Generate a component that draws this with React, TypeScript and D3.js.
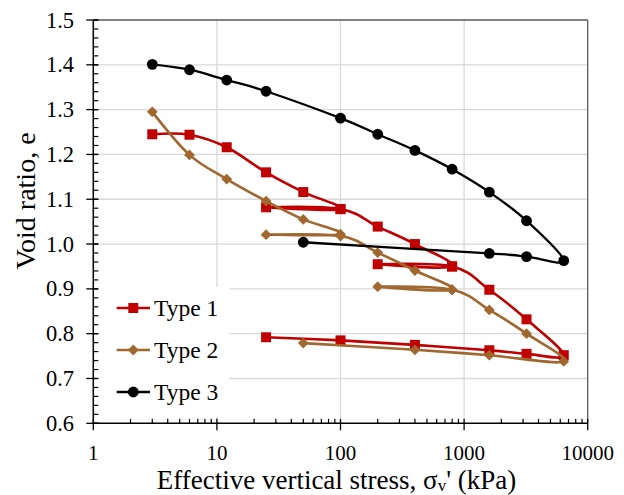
import React from "react";
import * as d3 from "d3";

const type1X = [3, 6, 12, 25, 50, 100, 25, 100, 200, 400, 800, 200, 800, 1600, 3200, 6400, 3200, 1600, 400, 100, 25];
const type1Y = [1.245, 1.244, 1.216, 1.16, 1.116, 1.078, 1.082, 1.078, 1.039, 1.0, 0.95, 0.955, 0.95, 0.898, 0.832, 0.752, 0.755, 0.763, 0.775, 0.785, 0.792];

const type2X = [3, 6, 12, 25, 50, 100, 25, 100, 200, 400, 800, 200, 800, 1600, 3200, 6400, 1600, 400, 50];
const type2Y = [1.295, 1.199, 1.145, 1.096, 1.055, 1.022, 1.021, 1.018, 0.981, 0.941, 0.898, 0.905, 0.898, 0.853, 0.8, 0.738, 0.752, 0.764, 0.779];

const type3X = [3, 6, 12, 25, 100, 200, 400, 800, 1600, 3200, 6400, 3200, 1600, 50];
const type3Y = [1.401, 1.389, 1.366, 1.341, 1.281, 1.245, 1.209, 1.167, 1.116, 1.052, 0.963, 0.972, 0.979, 1.004];

const xTicks = [1, 10, 100, 1000, 10000];
const yTicks = [0.6, 0.7, 0.8, 0.9, 1.0, 1.1, 1.2, 1.3, 1.4, 1.5];
const seriesNames = ["Type 1", "Type 2", "Type 3"];

const W = 624, H = 495;
const L = 93.3, R = 587.7, T = 20, B = 423.3;
const FONT = "'Liberation Serif', 'Times New Roman', serif";

export default function App() {
  const x = d3.scaleLog().domain([1, 10000]).range([L, R]);
  const y = d3.scaleLinear().domain([0.6, 1.5]).range([B, T]);

  const series = [
    { name: seriesNames[0], xs: type1X, ys: type1Y, color: "#C00000", shape: "square", lw: 2.6 },
    { name: seriesNames[1], xs: type2X, ys: type2Y, color: "#A0672F", shape: "diamond", lw: 2.6 },
    { name: seriesNames[2], xs: type3X, ys: type3Y, color: "#000000", shape: "circle", lw: 2.3 },
  ];

  const line = d3.line<[number, number]>()
    .x((d) => x(d[0]))
    .y((d) => y(d[1]))
    .curve(d3.curveCatmullRom.alpha(0));

  const marker = (shape: string, cx: number, cy: number, color: string, key: any) => {
    if (shape === "square") return <rect key={key} x={cx - 5} y={cy - 5} width={10} height={10} fill={color} />;
    if (shape === "diamond") return <path key={key} d={`M${cx},${cy - 5.4}L${cx + 5.4},${cy}L${cx},${cy + 5.4}L${cx - 5.4},${cy}Z`} fill={color} />;
    return <circle key={key} cx={cx} cy={cy} r={5.4} fill={color} />;
  };

  const minorX: number[] = [];
  for (let dec = 1; dec < 10000; dec *= 10) for (let k = 2; k <= 9; k++) minorX.push(dec * k);
  const minorY: number[] = d3.range(0.6, 1.5001, 0.02);

  const legY = [308, 350, 392];

  return (
    <svg width={W} height={H} style={{ position: "absolute", left: 0, top: 0, background: "#fff" }} fontFamily={FONT}>
      <rect x={0} y={0} width={W} height={H} fill="#fff" />
      {yTicks.slice(1, -1).map((t) => (
        <line key={"gy" + t} x1={L} x2={R} y1={y(t)} y2={y(t)} stroke="#d9d9d9" strokeWidth={1.3} />
      ))}
      {xTicks.slice(1, -1).map((t) => (
        <line key={"gx" + t} x1={x(t)} x2={x(t)} y1={T} y2={B} stroke="#d9d9d9" strokeWidth={1.3} />
      ))}
      <line x1={L} x2={R} y1={T} y2={T} stroke="#595959" strokeWidth={1.3} />
      <line x1={R} x2={R} y1={T} y2={B} stroke="#595959" strokeWidth={1.3} />
      <rect x={L + 1} y={287} width={135} height={130} fill="#fff" />
      {series.map((s) => {
        const pts: [number, number][] = s.xs.map((v, i) => [v, s.ys[i]]);
        return (
          <g key={s.name}>
            <path d={line(pts) || ""} fill="none" stroke={s.color} strokeWidth={s.lw} strokeLinejoin="round" />
            {pts.map((p, i) => marker(s.shape, x(p[0]), y(p[1]), s.color, i))}
          </g>
        );
      })}
      <line x1={L} x2={R} y1={B} y2={B} stroke="#000" strokeWidth={1.5} />
      <line x1={L} x2={L} y1={T} y2={B} stroke="#000" strokeWidth={1.5} />
      {minorX.map((t) => (
        <line key={"mx" + t} x1={x(t)} x2={x(t)} y1={B} y2={B - 4.5} stroke="#000" strokeWidth={1.2} />
      ))}
      {xTicks.map((t) => (
        <line key={"tx" + t} x1={x(t)} x2={x(t)} y1={B - 4.5} y2={B + 7} stroke="#000" strokeWidth={1.3} />
      ))}
      {minorY.map((t, i) => (
        <line key={"my" + i} x1={L} x2={L + 5} y1={y(t)} y2={y(t)} stroke="#000" strokeWidth={1.2} />
      ))}
      {yTicks.map((t) => (
        <line key={"ty" + t} x1={L - 7} x2={L + 5} y1={y(t)} y2={y(t)} stroke="#000" strokeWidth={1.3} />
      ))}
      {xTicks.map((t) => (
        <text key={"lx" + t} x={x(t)} y={459.5} textAnchor="middle" fontSize={21} fill="#000">{t}</text>
      ))}
      {yTicks.map((t) => (
        <text key={"ly" + t} x={74} y={y(t) + 7.5} textAnchor="end" fontSize={22.5} fill="#000">{t.toFixed(1)}</text>
      ))}
      <text x={336.5} y={489} textAnchor="middle" fontSize={27} fill="#000">
        Effective vertical stress, σ<tspan fontSize={17} dy={2}>v</tspan><tspan dy={-2}>' (kPa)</tspan>
      </text>
      <text transform="translate(34.5,201) rotate(-90)" textAnchor="middle" fontSize={28} fill="#000">Void ratio, e</text>
      {series.map((s, i) => (
        <g key={"leg" + i}>
          <line x1={116.7} x2={150} y1={legY[i]} y2={legY[i]} stroke={s.color} strokeWidth={s.lw} />
          {marker(s.shape, 133.3, legY[i], s.color, "m")}
          <text x={154} y={legY[i] + 8} fontSize={23.5} fill="#000">{s.name}</text>
        </g>
      ))}
    </svg>
  );
}
